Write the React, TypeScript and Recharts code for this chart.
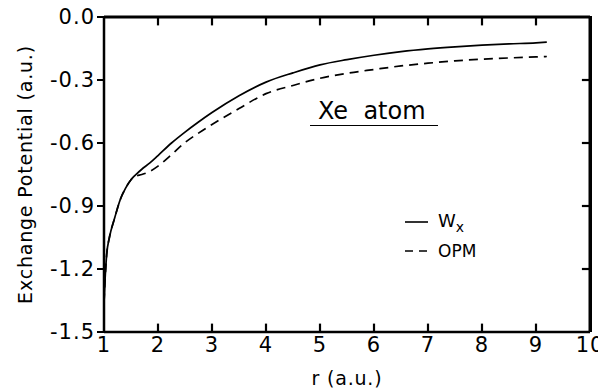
import { LineChart, Line, XAxis, YAxis, ReferenceLine } from "recharts";

const rValues = [
  1.0, 1.02, 1.05, 1.1, 1.2, 1.3, 1.4, 1.5, 1.55, 1.6, 1.7, 1.85, 2.0, 2.25,
  2.5, 2.75, 3.0, 3.5, 4.0, 4.5, 5.0, 5.5, 6.0, 6.5, 7.0, 7.5, 8.0, 8.5, 9.0,
  9.2,
];

// W_x (solid)
const wxValues = [
  -1.36, -1.25, -1.13, -1.05, -0.955, -0.87, -0.815, -0.775, -0.76, -0.748,
  -0.725, -0.695, -0.66, -0.6, -0.548, -0.5, -0.455, -0.375, -0.31, -0.266,
  -0.228, -0.203, -0.182, -0.165, -0.152, -0.142, -0.134, -0.128, -0.123,
  -0.12,
];

// OPM (dashed)
const opmValues = [
  -1.36, -1.25, -1.13, -1.05, -0.955, -0.87, -0.815, -0.775, -0.762, -0.757,
  -0.75, -0.735, -0.71, -0.655, -0.598, -0.553, -0.512, -0.436, -0.365,
  -0.326, -0.292, -0.268, -0.25, -0.233, -0.22, -0.209, -0.201, -0.195, -0.19,
  -0.188,
];

const xTicks = [1, 2, 3, 4, 5, 6, 7, 8, 9, 10];
const yTicks = [-1.5, -1.2, -0.9, -0.6, -0.3, 0];

const X_MIN = 1;
const X_MAX = 10;
const Y_MIN = -1.5;
const Y_MAX = 0;
// inward tick length, in data units (about 8px)
const TICK_DX = 0.15;
const TICK_DY = 0.04;

const data = rValues.map((r, i) => ({ r, wx: wxValues[i], opm: opmValues[i] }));

const FONT = "'DejaVu Sans', sans-serif";
const INK = "#000";

function YLabel(props: any) {
  const { viewBox } = props;
  const cx = viewBox.x + 25;
  const cy = viewBox.y + viewBox.height / 2;
  return (
    <text
      x={cx}
      y={cy}
      transform={`rotate(-90 ${cx} ${cy})`}
      textAnchor="middle"
      dominantBaseline="central"
      fontFamily={FONT}
      fontSize={19}
      letterSpacing={0.8}
      fill={INK}
    >
      Exchange Potential (a.u.)
    </text>
  );
}

function XLabel(props: any) {
  const { viewBox } = props;
  const cx = viewBox.x + viewBox.width / 2;
  return (
    <text
      x={cx}
      y={378}
      textAnchor="middle"
      dominantBaseline="central"
      fontFamily={FONT}
      fontSize={19}
      letterSpacing={0.8}
      fill={INK}
    >
      r (a.u.)
    </text>
  );
}

// key: short line samples with the series names
function KeyBox() {
  return (
    <svg width={100} height={50} style={{ display: "block" }}>
      <line x1={0} y1={12} x2={23} y2={12} stroke={INK} strokeWidth={1.6} />
      <text x={33} y={17} fontFamily={FONT} fontSize={18} fill={INK}>
        W
        <tspan fontSize={14} dy={5}>
          x
        </tspan>
      </text>
      <line
        x1={0}
        y1={41}
        x2={23}
        y2={41}
        stroke={INK}
        strokeWidth={1.6}
        strokeDasharray="8 6"
      />
      <text x={33} y={47} fontFamily={FONT} fontSize={17} fill={INK}>
        OPM
      </text>
    </svg>
  );
}

export default function App() {
  return (
    <div
      style={{
        position: "absolute",
        left: 0,
        top: 0,
        width: 598,
        height: 389,
        background: "#fff",
      }}
    >
      <LineChart
        width={598}
        height={389}
        data={data}
        margin={{ top: 17, right: 8, bottom: 0, left: 0 }}
      >
        <XAxis
          dataKey="r"
          type="number"
          domain={[X_MIN, X_MAX]}
          ticks={xTicks}
          allowDataOverflow
          height={57}
          axisLine={{ stroke: INK, strokeWidth: 2.5 }}
          tickLine={false}
          tickSize={0}
          tickMargin={5}
          tick={{ fontFamily: FONT, fontSize: 21, fill: INK, letterSpacing: 1 }}
          interval={0}
          label={{ content: XLabel }}
        />
        <YAxis
          type="number"
          domain={[Y_MIN, Y_MAX]}
          ticks={yTicks}
          allowDataOverflow
          width={104}
          axisLine={{ stroke: INK, strokeWidth: 2.5 }}
          tickLine={{ stroke: INK, strokeWidth: 2 }}
          tickSize={7}
          tickMargin={2}
          tickFormatter={(v: number) => v.toFixed(1)}
          tick={{ fontFamily: FONT, fontSize: 21, fill: INK, letterSpacing: 1 }}
          interval={0}
          label={{ content: YLabel }}
        />

        {/* frame: top and right borders */}
        <ReferenceLine y={Y_MAX} stroke={INK} strokeWidth={3} ifOverflow="visible" />
        <ReferenceLine x={X_MAX} stroke={INK} strokeWidth={3} ifOverflow="visible" />

        {/* inward tick marks on bottom and top borders */}
        {xTicks.slice(1, -1).map((t) => (
          <ReferenceLine
            key={`b${t}`}
            segment={[
              { x: t, y: Y_MIN },
              { x: t, y: Y_MIN + TICK_DY },
            ]}
            stroke={INK}
            strokeWidth={2.2}
            ifOverflow="visible"
          />
        ))}
        {xTicks.slice(1, -1).map((t) => (
          <ReferenceLine
            key={`t${t}`}
            segment={[
              { x: t, y: Y_MAX },
              { x: t, y: Y_MAX - TICK_DY },
            ]}
            stroke={INK}
            strokeWidth={2.2}
            ifOverflow="visible"
          />
        ))}
        {/* inward tick marks on right border */}
        {yTicks.slice(1, -1).map((t) => (
          <ReferenceLine
            key={`r${t}`}
            segment={[
              { x: X_MAX, y: t },
              { x: X_MAX - TICK_DX, y: t },
            ]}
            stroke={INK}
            strokeWidth={2.2}
            ifOverflow="visible"
          />
        ))}

        <Line
          type="monotone"
          dataKey="wx"
          name="Wx"
          stroke={INK}
          strokeWidth={1.7}
          dot={false}
          isAnimationActive={false}
        />
        <Line
          type="monotone"
          dataKey="opm"
          name="OPM"
          stroke={INK}
          strokeWidth={1.7}
          strokeDasharray="9 6"
          dot={false}
          isAnimationActive={false}
        />
      </LineChart>
      {/* plot frame, top and right edges, over the plot box */}
      <div
        style={{
          position: "absolute",
          left: 104,
          top: 16,
          width: 488,
          height: 316,
          boxSizing: "border-box",
          borderTop: `2.5px solid ${INK}`,
          borderRight: `3px solid ${INK}`,
          pointerEvents: "none",
        }}
      />
      <div style={{ position: "absolute", left: 405, top: 210 }}>
        <KeyBox />
      </div>
      <div
        style={{
          position: "absolute",
          left: 310,
          top: 97,
          width: 128,
          paddingLeft: 8,
          boxSizing: "border-box",
          borderBottom: `1.5px solid ${INK}`,
          fontFamily: FONT,
          fontSize: 24,
          lineHeight: "28px",
          color: INK,
          whiteSpace: "pre",
        }}
      >
        {"Xe  atom"}
      </div>
    </div>
  );
}
